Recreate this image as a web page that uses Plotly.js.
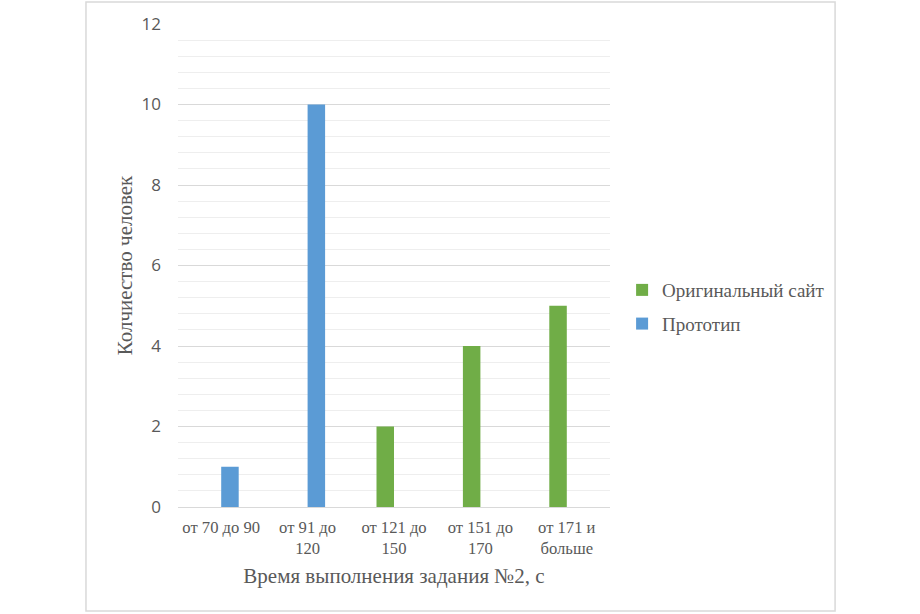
<!DOCTYPE html>
<html>
<head>
<meta charset="utf-8">
<script src="https://cdn.plot.ly/plotly-3.0.1.min.js"></script>
<style>
  body { margin: 0; background: #fff; }
  #chart { width: 920px; height: 614px; }
</style>
</head>
<body>
<div id="chart"></div>
<script>
var categories = ['от 70 до 90', 'от 91 до<br>120', 'от 121 до<br>150', 'от 151 до<br>170', 'от 171 и<br>больше'];
var originalSite = [null, null, 2, 4, 5];
var prototype = [1, 10, null, null, null];

var serif = 'Liberation Serif';
var sans = 'Open Sans';
var textColor = '#595959';

var plotData = [{
    type: 'bar',
    name: 'Оригинальный сайт',
    legendgroup: 'orig',
    x: categories,
    y: originalSite,
    marker: {color: '#70ad47'},
    hoverinfo: 'skip'
}, {
    type: 'bar',
    name: 'Прототип',
    legendgroup: 'proto',
    x: categories,
    y: prototype,
    marker: {color: '#5b9bd5'},
    hoverinfo: 'skip'
}];

var layout = {
    width: 920,
    height: 614,
    margin: {l: 178, r: 310, t: 24, b: 107},
    paper_bgcolor: '#fff',
    plot_bgcolor: '#fff',
    font: {family: serif, color: textColor},
    barmode: 'group',
    bargap: 0.595,
    bargroupgap: 0,
    showlegend: true,
    legend: {
        x: 1.028, y: 0.414, xanchor: 'left', yanchor: 'middle',
        font: {family: serif, size: 19, color: textColor},
        itemwidth: 30,
        traceorder: 'grouped',
        tracegroupgap: 6
    },
    xaxis: {
        type: 'category',
        showgrid: false,
        showline: false,
        ticks: '',
        ticklabelstandoff: 8,
        tickfont: {family: serif, size: 16.6, color: textColor},
        title: {text: 'Время выполнения задания №2, с', font: {family: serif, size: 21, color: textColor}, standoff: 11}
    },
    yaxis: {
        range: [0, 12],
        dtick: 2,
        showgrid: true,
        gridcolor: '#d9d9d9',
        gridwidth: 1,
        zeroline: true,
        zerolinecolor: '#d9d9d9',
        zerolinewidth: 1,
        showline: false,
        ticks: '',
        ticklabelstandoff: 16,
        tickfont: {family: sans, size: 17, color: textColor},
        minor: {dtick: 0.4, showgrid: true, gridcolor: '#eeeeee', gridwidth: 1},
        title: {text: 'Колчиество человек', font: {family: serif, size: 21, color: textColor}, standoff: 3}
    },
    shapes: [{
        type: 'rect', xref: 'paper', yref: 'paper',
        x0: -0.213, x1: 1.521, y0: -0.2153, y1: 1.0455,
        line: {color: '#d9d9d9', width: 1.5}
    }]
};

Plotly.newPlot('chart', plotData, layout, {staticPlot: true});
</script>
</body>
</html>
